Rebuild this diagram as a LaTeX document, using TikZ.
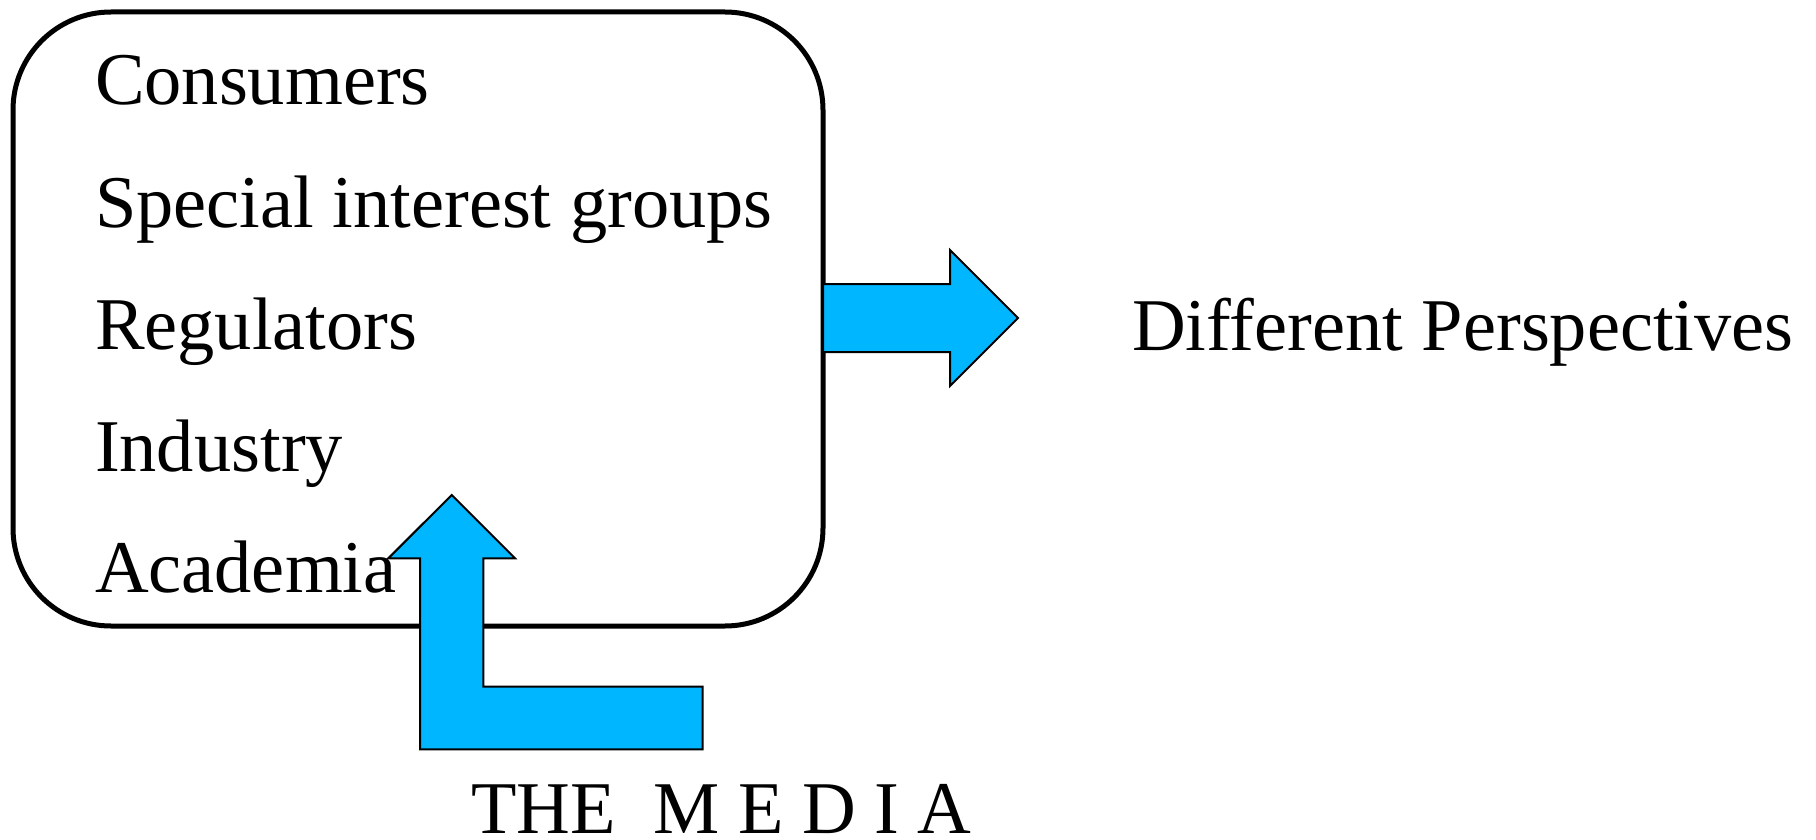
\documentclass[tikz,border=0pt]{standalone}
\usepackage{fontspec}
\setmainfont{Liberation Serif}
\definecolor{arrowblue}{RGB}{0,182,255}
\tikzset{
  lbl/.style={anchor=base west, inner sep=0pt, outer sep=0pt, font=\fontsize{74.4}{88}\selectfont},
  boxstyle/.style={draw=black, line width=5pt, rounded corners=98pt, inner sep=0pt, outer sep=0pt},
  blockarrow/.style={fill=arrowblue, draw=black, line width=2pt, line join=miter}
}
\begin{document}
\begin{tikzpicture}[x=1pt, y=-1pt]
\useasboundingbox (0,0) rectangle (1816,840);
% group box
\node[boxstyle, minimum width=810pt, minimum height=614pt] (box) at (418,319) {};
% list of groups
\node[lbl] (consumers) at (95,105) {Consumers};
\node[lbl] (special) at (95,227) {Special interest groups};
\node[lbl] (regulators) at (95,349) {Regulators};
\node[lbl] (industry) at (95,471) {Industry};
\node[lbl] (academia) at (95,592) {Academia};
% outcome and source
\node[lbl] (perspectives) at (1132,350) {Different Perspectives};
\node[lbl] (media) at (471.5,833) {THE\ \ M E D I A};
% block arrow from box to perspectives
\draw[blockarrow] (box.east |- 0,284) -- (950,284) -- (950,250) -- (1018,318) -- (950,386) -- (950,352) -- (box.east |- 0,352) -- cycle;
% bent block arrow from the media into box
\draw[blockarrow] (451.7,495) -- (515,558.3) -- (483.3,558.3) -- (483.3,686.7) -- (702.7,686.7) -- (702.7,749.3) -- (420,749.3) -- (420,558.3) -- (388.3,558.3) -- cycle;
\end{tikzpicture}
\end{document}
